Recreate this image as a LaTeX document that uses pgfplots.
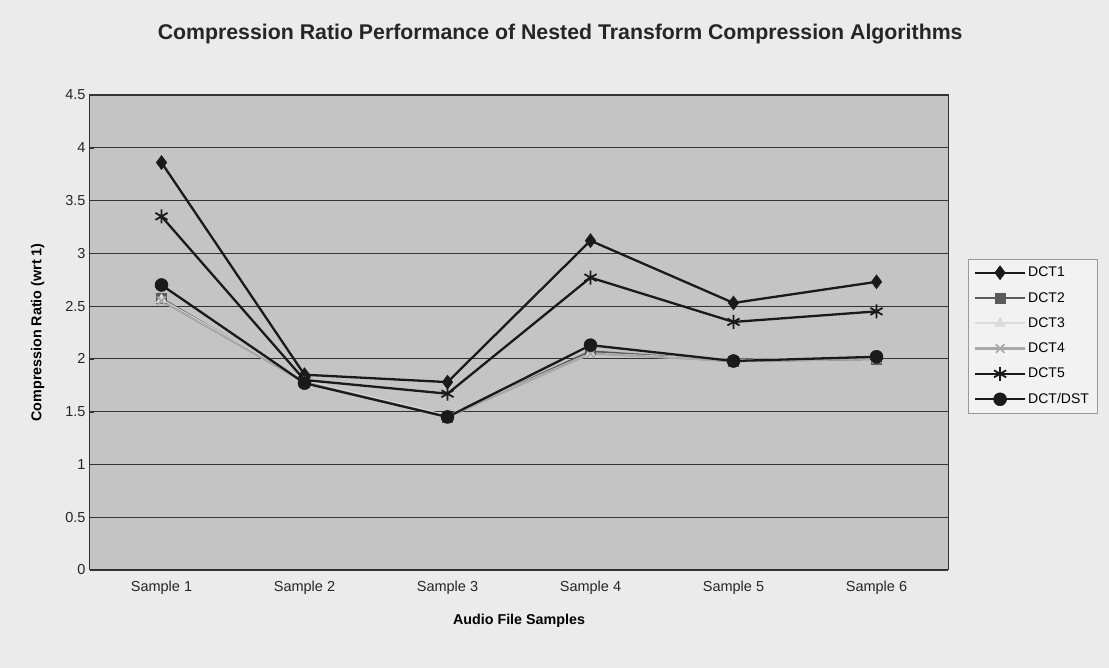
\documentclass[border=0pt]{standalone}
\usepackage{pgfplots}
\pgfplotsset{compat=1.18}
\usepackage{fontspec}
\setmainfont{Liberation Sans}
\definecolor{plotbg}{HTML}{C4C4C4}
\definecolor{pagebg}{HTML}{EBEBEB}
\definecolor{sdark}{HTML}{1A1A1A}
\definecolor{smid}{HTML}{5A5A5A}
\definecolor{slight}{HTML}{A8A8A8}
\definecolor{spale}{HTML}{DADADA}
\begin{document}
\begin{tikzpicture}
  \fill[pagebg] (-90pt,-98pt) rectangle (1019pt,570pt);
  \begin{axis}[
    at={(0pt,0pt)}, anchor=south west,
    scale only axis,
    width=858pt, height=475pt,
    axis background/.style={fill=plotbg},
    xmin=-0.5, xmax=5.5,
    ymin=0, ymax=4.5,
    xtick={0,1,2,3,4,5},
    xticklabels={Sample 1,Sample 2,Sample 3,Sample 4,Sample 5,Sample 6},
    ytick={0,0.5,...,4.5},
    tick pos=left,
    ymajorgrids,
    major grid style={black!80, line width=0.9pt},
    axis line style={black!80, line width=1pt},
    major tick length=4pt,
    tick style={black!80},
    x tick style={draw=none},
    tick label style={font=\fontsize{14.5}{16}\selectfont, black!85},
    /pgf/number format/assume math mode=true,
    xticklabel style={yshift=-7pt},
    yticklabel style={xshift=-1pt},
    xlabel={\textbf{Audio File Samples}},
    ylabel={\textbf{Compression Ratio (wrt 1)}},
    label style={font=\fontsize{14.3}{16}\selectfont},
    xlabel style={at={(0.5,-0.085)}, anchor=north},
    ylabel style={at={(-0.049,0.5)}, anchor=south},
    title={\textbf{Compression Ratio Performance of Nested Transform Compression Algorithms}},
    title style={at={(0.548,1.115)}, anchor=center, font=\fontsize{21.3}{24}\selectfont, black!85},
    legend style={at={(1.023,0.655)}, anchor=north west, draw=black!40, fill=white!95!black,
      font=\fontsize{14}{16}\selectfont, row sep=10pt, inner sep=6pt},
    legend cell align=left,
    legend image code/.code={
      \draw[mark repeat=2, mark phase=2] plot coordinates {(0pt,0pt) (25pt,0pt) (50pt,0pt)};
    },
  ]
    \addplot[sdark, line width=2.3pt, mark=diamond*, mark size=7pt, mark options={solid, fill=sdark, line width=0.5pt}]
      coordinates {(0,3.86) (1,1.85) (2,1.78) (3,3.12) (4,2.53) (5,2.73)};
    \addplot[smid, line width=2.3pt, mark=square*, mark size=5pt, mark options={solid, fill=smid, line width=0.5pt}]
      coordinates {(0,2.57) (1,1.78) (2,1.45) (3,2.07) (4,1.98) (5,2.00)};
    \addplot[spale, line width=2.3pt, mark=triangle*, mark size=6pt, mark options={solid, fill=spale, line width=0.5pt}]
      coordinates {(0,2.56) (1,1.79) (2,1.46) (3,2.05) (4,1.99) (5,2.01)};
    \addplot[slight, line width=2.3pt, mark=x, mark size=6pt, mark options={solid, line width=1.8pt}]
      coordinates {(0,2.55) (1,1.78) (2,1.45) (3,2.05) (4,1.98) (5,2.00)};
    \addplot[sdark, line width=2.3pt, mark=asterisk, mark size=7pt, mark options={solid, line width=1.8pt}]
      coordinates {(0,3.35) (1,1.80) (2,1.67) (3,2.77) (4,2.35) (5,2.45)};
    \addplot[sdark, line width=2.3pt, mark=*, mark size=6.5pt, mark options={solid, fill=sdark, line width=0.5pt}]
      coordinates {(0,2.70) (1,1.77) (2,1.45) (3,2.13) (4,1.98) (5,2.02)};
    \legend{DCT1, DCT2, DCT3, DCT4, DCT5, DCT/DST}
  \end{axis}
  \useasboundingbox (-90pt,-98pt) rectangle (1019pt,570pt);
\end{tikzpicture}
\end{document}
